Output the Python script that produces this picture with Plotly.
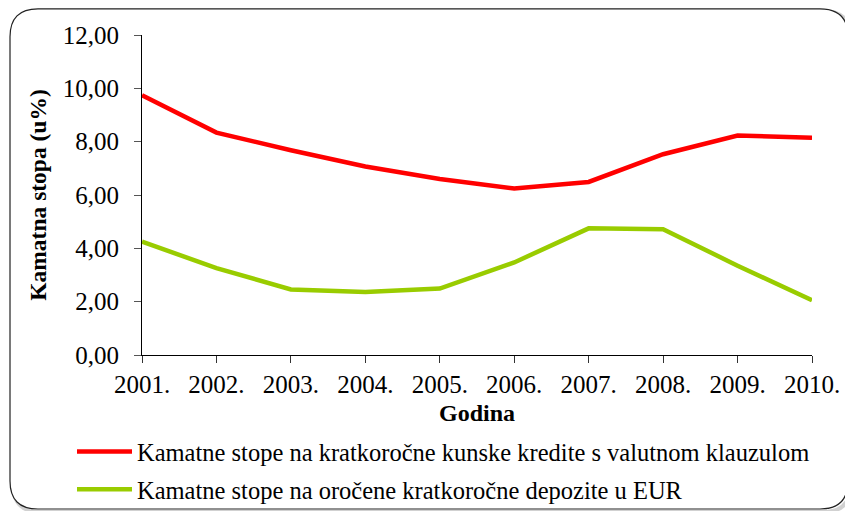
import plotly.graph_objects as go

years = [2001, 2002, 2003, 2004, 2005, 2006, 2007, 2008, 2009, 2010]
year_labels = ["2001.", "2002.", "2003.", "2004.", "2005.", "2006.", "2007.", "2008.", "2009.", "2010."]
kredit_rates = [9.74, 8.34, 7.68, 7.07, 6.60, 6.24, 6.49, 7.53, 8.23, 8.15]
depozit_rates = [4.25, 3.26, 2.46, 2.36, 2.49, 3.47, 4.75, 4.72, 3.35, 2.05]
y_ticks = [0, 2, 4, 6, 8, 10, 12]

name_kredit = "Kamatne stope na kratkoročne kunske kredite s valutnom klauzulom"
name_depozit = "Kamatne stope na oročene kratkoročne depozite u EUR"

# the page places the figure 8px in from the window corner
OFF = 8
W, H = 853 - OFF, 511 - OFF
PL, PT, PR, PB = 142, 35, 812, 355   # plot area in window pixels
ML, MT = PL - OFF, PT - OFF
PW, PH = PR - PL, PB - PT
MR = W - ML - PW
MB = H - MT - PH


def px(x):
    return (x - PL) / PW


def py(y):
    return (PB - y) / PH


def rounded_path(L, T, R, B, r):
    pts = [
        ("M", [(L + r, T)]),
        ("L", [(R - r, T)]),
        ("Q", [(R, T), (R, T + r)]),
        ("L", [(R, B - r)]),
        ("Q", [(R, B), (R - r, B)]),
        ("L", [(L + r, B)]),
        ("Q", [(L, B), (L, B - r)]),
        ("L", [(L, T + r)]),
        ("Q", [(L, T), (L + r, T)]),
    ]
    s = ""
    for cmd, coords in pts:
        s += cmd + " " + " ".join(f"{px(x):.5f},{py(y):.5f}" for x, y in coords) + " "
    return s + "Z"


FONT = "Liberation Serif, Times New Roman, serif"

fig = go.Figure()
fig.add_trace(go.Scatter(x=years, y=kredit_rates, mode="lines", name=name_kredit,
                         line=dict(color="#FF0000", width=4.5), legendgroup="a"))
fig.add_trace(go.Scatter(x=years, y=depozit_rates, mode="lines", name=name_depozit,
                         line=dict(color="#99CC00", width=4.5), legendgroup="b"))

shapes = [
    # soft shadow
    dict(type="path", xref="paper", yref="paper", layer="below",
         path=rounded_path(13, 11, 851, 512, 28),
         line=dict(color="rgba(0,0,0,0.18)", width=4), fillcolor="rgba(0,0,0,0)"),
    dict(type="path", xref="paper", yref="paper", layer="below",
         path=rounded_path(10, 8.8, 848, 509, 28),
         line=dict(color="#222222", width=1.2), fillcolor="white"),
]

fig.update_layout(
    width=W, height=H,
    margin=dict(l=ML, r=MR, t=MT, b=MB, autoexpand=False),
    paper_bgcolor="white", plot_bgcolor="white",
    separators=",.",
    font=dict(family=FONT, color="black", size=24),
    shapes=shapes,
    showlegend=True,
    legend=dict(orientation="v", x=px(72), y=py(429), xanchor="left", yanchor="top",
                font=dict(family=FONT, size=24.5, color="black"),
                bgcolor="rgba(0,0,0,0)", tracegroupgap=3, itemwidth=55),
    xaxis=dict(range=[2001, 2010], tickvals=years, ticktext=year_labels,
               showgrid=False, zeroline=False, showline=True, linecolor="black", linewidth=1,
               ticks="outside", ticklen=7, tickcolor="#333333",
               tickfont=dict(family=FONT, size=25, color="black"),
               title=dict(text="<b>Godina</b>", font=dict(family=FONT, size=24, color="black"), standoff=7)),
    yaxis=dict(range=[0, 12], tickvals=y_ticks, tickformat=".2f",
               showgrid=False, zeroline=False, showline=True, linecolor="black", linewidth=1,
               ticks="outside", ticklen=7, tickcolor="#555555", ticklabelstandoff=10,
               tickfont=dict(family=FONT, size=25, color="black"),
               title=dict(text="<b>Kamatna stopa (u%)</b>", font=dict(family=FONT, size=23.5, color="black"), standoff=9)),
)

fig.write_html("out.html")
